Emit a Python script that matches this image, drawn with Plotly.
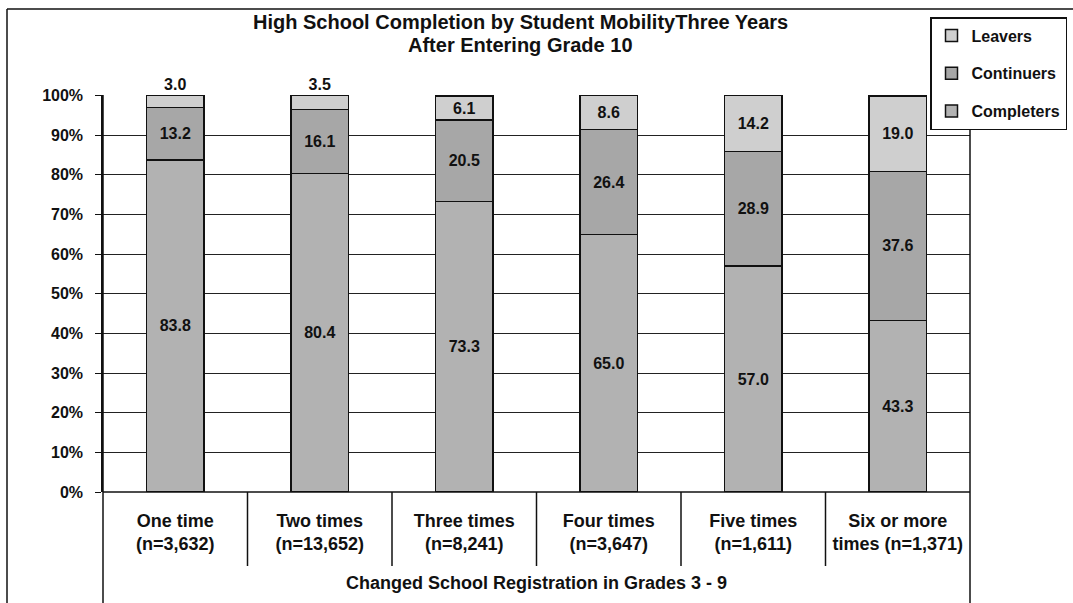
import plotly.graph_objects as go

categories = ["One time<br>(n=3,632)", "Two times<br>(n=13,652)", "Three times<br>(n=8,241)",
              "Four times<br>(n=3,647)", "Five times<br>(n=1,611)", "Six or more<br>times (n=1,371)"]
completers = [83.8, 80.4, 73.3, 65.0, 57.0, 43.3]
continuers = [13.2, 16.1, 20.5, 26.4, 28.9, 37.6]
leavers = [3.0, 3.5, 6.1, 8.6, 14.2, 19.0]
y_ticks = [0, 10, 20, 30, 40, 50, 60, 70, 80, 90, 100]
y_tick_labels = [f"{v}%" for v in y_ticks]

FONT = "Liberation Sans, Arial, sans-serif"
INK = "#111111"
W, H = 1073, 603
L, R, T, B = 103, 970, 95, 492

def px(x):
    return (x - L) / (R - L)

def py(y):
    return (B - y) / (B - T)

fig = go.Figure()
series = [
    ("Completers", completers, "#b2b2b2", 3),
    ("Continuers", continuers, "#a7a7a7", 2),
    ("Leavers", leavers, "#cfcfcf", 1),
]
for name, vals, col, rank in series:
    if name == "Leavers":
        tpos = ["outside" if v < 5 else "inside" for v in vals]
    else:
        tpos = "inside"
    fig.add_trace(go.Bar(
        x=categories, y=vals, name=name, legendgroup=name, legendrank=rank,
        marker=dict(color=col, line=dict(color=INK, width=1.5)),
        width=0.4,
        text=[f"{v:.1f}" for v in vals], textposition=tpos,
        insidetextanchor="middle",
        textfont=dict(family=FONT, size=16, color=INK, weight="bold"),
        cliponaxis=False,
        hoverinfo="skip",
    ))

fig.update_layout(
    width=W, height=H,
    margin=dict(l=L, r=W - R, t=T, b=H - B, autoexpand=False),
    barmode="stack",
    plot_bgcolor="white", paper_bgcolor="white",
    font=dict(family=FONT, size=16, color=INK, weight="bold"),
    legend=dict(
        x=px(1067), xanchor="right", y=py(17), yanchor="top",
        tracegroupgap=14,
        bordercolor=INK, borderwidth=1.5, bgcolor="white",
        font=dict(family=FONT, size=16, color=INK, weight="bold"),
        itemwidth=30,
    ),
    xaxis=dict(
        showgrid=False, zeroline=False, showline=False,
        ticks="outside", ticklen=12, tickcolor="rgba(0,0,0,0)",
        tickfont=dict(family=FONT, size=18, color=INK, weight="bold"),
    ),
    yaxis=dict(
        range=[0, 100.15], tickvals=y_ticks, ticktext=y_tick_labels,
        showgrid=True, gridcolor="#222222", gridwidth=1,
        zeroline=False, showline=True, linecolor=INK, linewidth=1.5,
        ticks="outside", ticklen=6, tickcolor=INK,
        ticklabelstandoff=9,
        tickfont=dict(family=FONT, size=16, color=INK, weight="bold"),
    ),
)

shapes = []
shapes.append(dict(type="line", xref="paper", yref="paper", x0=0, x1=1, y0=0, y1=0,
                   line=dict(color=INK, width=1.5)))
for i in range(1, len(categories)):
    shapes.append(dict(type="line", xref="x", yref="paper", x0=i - 0.5, x1=i - 0.5,
                       y0=0, y1=py(566), line=dict(color=INK, width=1.5)))
for xv in (0, 1):
    shapes.append(dict(type="line", xref="paper", yref="paper", x0=xv, x1=xv,
                       y0=1, y1=py(H), line=dict(color=INK, width=1.5)))
shapes.append(dict(type="line", xref="paper", yref="paper", x0=px(7), x1=px(7),
                   y0=py(9), y1=py(H), line=dict(color=INK, width=1.5)))
shapes.append(dict(type="line", xref="paper", yref="paper", x0=px(7), x1=px(W),
                   y0=py(9), y1=py(9), line=dict(color=INK, width=1.5)))
fig.update_layout(shapes=shapes)

title_lines = ["High School Completion by Student MobilityThree Years", "After Entering Grade 10"]
for line, yc in zip(title_lines, (22, 45)):
    fig.add_annotation(
        text=line, xref="paper", yref="paper", x=px(520), y=py(yc),
        xanchor="center", yanchor="middle", showarrow=False,
        font=dict(family=FONT, size=20, color=INK, weight="bold"),
    )

fig.add_annotation(
    text="Changed School Registration in Grades 3 - 9",
    xref="paper", yref="paper", x=0.5, y=py(583), xanchor="center", yanchor="middle",
    showarrow=False, font=dict(family=FONT, size=18, color=INK, weight="bold"),
)

fig.write_html("out.html")
